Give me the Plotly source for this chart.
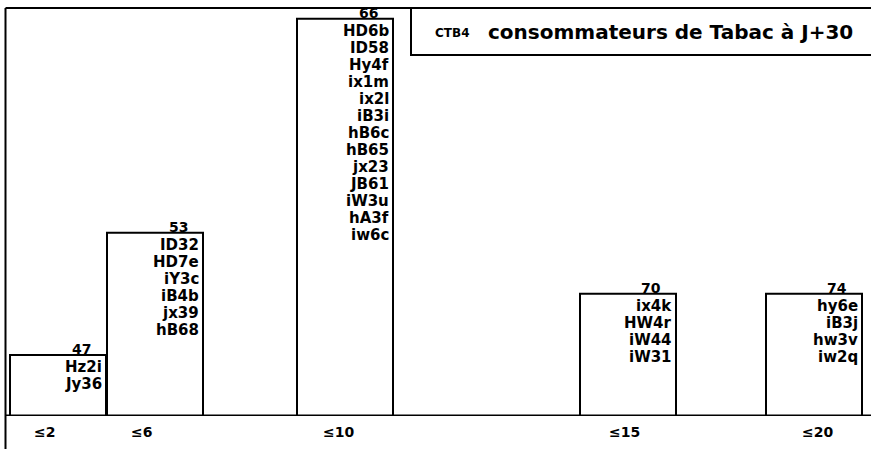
import plotly.graph_objects as go

W, H = 871, 449

# données
classes = ["≤2", "≤6", "≤10", "≤15", "≤20"]
numeros = [47, 53, 66, 70, 74]
codes = [
    ["Hz2i", "Jy36"],
    ["ID32", "HD7e", "iY3c", "iB4b", "jx39", "hB68"],
    ["HD6b", "ID58", "Hy4f", "ix1m", "ix2l", "iB3i", "hB6c", "hB65",
     "jx23", "JB61", "iW3u", "hA3f", "iw6c"],
    ["ix4k", "HW4r", "iW44", "iW31"],
    ["hy6e", "iB3j", "hw3v", "iw2q"],
]
effectifs = [len(c) for c in codes]

# mise en page (position des classes sur l'axe)
x_pos = [52, 149, 339, 622, 808]
tick_shift = [-14, -14, -7, -4, 3]
bar_w = 96
interligne = 17

font = dict(family="DejaVu Sans", size=15, color="black", weight="bold")
font_num = dict(family="DejaVu Sans", size=14, color="black", weight="bold")

fig = go.Figure()
fig.add_trace(go.Bar(
    x=x_pos, y=effectifs, width=bar_w,
    marker=dict(color="white", line=dict(color="black", width=2)),
    hoverinfo="skip",
))

for xp, n, c, lab, ts in zip(x_pos, numeros, codes, classes, tick_shift):
    right = xp + bar_w / 2
    for i, code in enumerate(c):
        fig.add_annotation(x=right, y=len(c), text=code, showarrow=False,
                           xanchor="right", yanchor="middle",
                           xshift=-2, yshift=-(12 + i * interligne), font=font)
    fig.add_annotation(x=right, y=len(c), text=str(n), showarrow=False,
                       xanchor="center", yanchor="bottom", xshift=-25, yshift=-4,
                       font=font_num)
    fig.add_annotation(x=xp, y=0, text=lab, showarrow=False,
                       xanchor="center", yanchor="middle", xshift=ts, yshift=-16,
                       font=font_num)

# cadre
line = dict(color="black", width=2)
fig.add_shape(type="line", xref="paper", yref="paper",
              x0=5.5 / W, x1=5.5 / W, y0=0, y1=1 - 8 / H, line=line)
fig.add_shape(type="line", xref="paper", yref="paper",
              x0=5.5 / W, x1=1, y0=1 - 8 / H, y1=1 - 8 / H, line=line)
fig.add_shape(type="line", xref="paper", yref="y",
              x0=5.5 / W, x1=1, y0=0, y1=0, line=dict(color="black", width=3))
fig.add_shape(type="rect", xref="paper", yref="paper",
              x0=411 / W, x1=1.01, y0=1 - 55 / H, y1=1 - 8 / H, line=line)

# titre
fig.add_annotation(xref="paper", yref="paper", x=433 / W, y=1 - 33 / H,
                   text="CTB4", showarrow=False, xanchor="left", yanchor="middle",
                   font=dict(family="DejaVu Sans", size=12, color="black", weight="bold"))
fig.add_annotation(xref="paper", yref="paper", x=486 / W, y=1 - 32 / H,
                   text="consommateurs de Tabac à J+30", showarrow=False,
                   xanchor="left", yanchor="middle",
                   font=dict(family="DejaVu Sans", size=20, color="black", weight="bold"))

fig.update_xaxes(range=[0, 865], domain=[6 / W, 1], visible=False)
fig.update_yaxes(range=[0, 13.35], domain=[1 - 416 / H, 1 - 8 / H], visible=False)
fig.update_layout(
    width=W, height=H,
    margin=dict(l=0, r=0, t=0, b=0),
    paper_bgcolor="white", plot_bgcolor="white",
    showlegend=False,
)

fig.write_html("out.html", config={"displayModeBar": False},
               post_script="document.body.style.margin='0';")
